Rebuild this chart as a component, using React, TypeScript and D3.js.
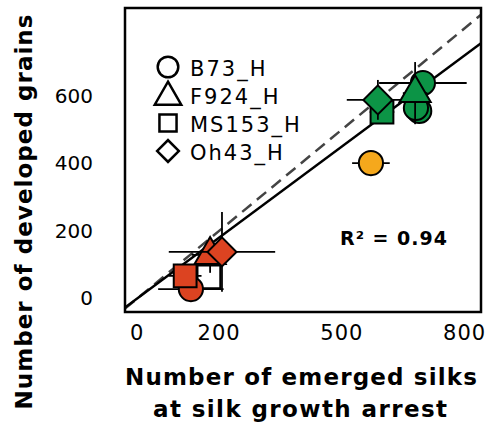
import React from 'react';
import * as d3 from 'd3';

// genotypes and their marker shapes
const genotypes = ['B73_H', 'F924_H', 'MS153_H', 'Oh43_H'];
const shapeNames = ['circle', 'triangle', 'square', 'diamond'];

// one entry per plotted point, in drawing order
const pointGenotype = [2, 0, 2, 1, 3, 2, 3, 0, 0, 0, 1, 0];
const pointFill = ['white', 'red', 'red', 'red', 'red', 'green', 'green', 'green', 'green', 'green', 'green', 'orange'];
const silks = [175, 131, 117, 178, 207, 598, 588, 689, 681, 698, 679, 571];
const grains = [64, 28, 67, 129, 138, 552, 588, 555, 564, 638, 608, 401];
const silksErr = [0, 80, 40, 45, 130, 30, 76, 0, 0, 107, 30, 46];
const grainsErr = [0, 8, 15, 53, 118, 15, 59, 0, 0, 25, 92, 0];

const xTicks = [0, 200, 500, 800];
const yTicks = [0, 200, 400, 600];
const slope = 0.9; // fitted line through origin
const r2Label = 'R² = 0.94';

const colors: Record<string, string> = {
  white: '#ffffff',
  red: '#dc4321',
  green: '#0c9446',
  orange: '#f5a81c',
};

const width = 492;
const height = 440;
const plot = { left: 125, right: 481, top: 8, bottom: 312 };
const font = 'DejaVu Sans, sans-serif';

const xScale = d3.scaleLinear().domain([-30, 840]).range([plot.left, plot.right]);
const yScale = d3.scaleLinear().domain([-40, 860]).range([plot.bottom, plot.top]);

// marker path for each shape, sized like the original
const markerPath = (shape: string, k = 1) => {
  if (shape === 'circle') return d3.symbol().type(d3.symbolCircle).size(460 * k * k)()!;
  if (shape === 'triangle') return d3.symbol().type(d3.symbolTriangle).size(420 * k * k)()!;
  if (shape === 'square') return d3.symbol().type(d3.symbolSquare).size(520 * k * k)()!;
  return d3.symbol().type(d3.symbolSquare).size(420 * k * k)()!;
};

const legendScale: Record<string, number> = { circle: 0.85, triangle: 0.85, square: 0.75, diamond: 0.75 };

export default function App() {
  const x0 = xScale.domain()[0];
  const x1 = xScale.domain()[1];
  const dash = `M${xScale(x0)},${yScale(x0)}L${xScale(x1)},${yScale(x1)}`;
  const fit = `M${xScale(x0)},${yScale(x0 * slope)}L${xScale(x1)},${yScale(x1 * slope)}`;

  return (
    <svg
      width={width}
      height={height}
      style={{ position: 'absolute', left: 0, top: 0, background: '#fff' }}
      fontFamily={font}
    >
      <defs>
        <clipPath id="plot-clip">
          <rect x={plot.left} y={plot.top} width={plot.right - plot.left} height={plot.bottom - plot.top} />
        </clipPath>
      </defs>

      {/* 1:1 and fitted lines */}
      <g clipPath="url(#plot-clip)">
        <path d={dash} stroke="#444" strokeWidth={2.5} strokeDasharray="12 7" fill="none" />
        <path d={fit} stroke="#000" strokeWidth={2.5} fill="none" />
      </g>

      {/* points with error bars */}
      {silks.map((s, i) => {
        const cx = xScale(s);
        const cy = yScale(grains[i]);
        const shape = shapeNames[pointGenotype[i]];
        return (
          <g key={i}>
            {silksErr[i] > 0 && (
              <line x1={xScale(s - silksErr[i])} x2={xScale(s + silksErr[i])} y1={cy} y2={cy} stroke="#000" strokeWidth={1.8} />
            )}
            {grainsErr[i] > 0 && (
              <line x1={cx} x2={cx} y1={yScale(grains[i] - grainsErr[i])} y2={yScale(grains[i] + grainsErr[i])} stroke="#000" strokeWidth={1.8} />
            )}
            <path
              d={markerPath(shape)}
              transform={`translate(${cx},${cy})${shape === 'diamond' ? ' rotate(45)' : ''}`}
              fill={colors[pointFill[i]]}
              stroke="#000"
              strokeWidth={2}
            />
          </g>
        );
      })}

      {/* frame */}
      <rect
        x={plot.left}
        y={plot.top}
        width={plot.right - plot.left}
        height={plot.bottom - plot.top}
        fill="none"
        stroke="#000"
        strokeWidth={2.5}
      />

      {/* tick labels */}
      {xTicks.map((t) => (
        <text key={t} x={xScale(t)} y={340} textAnchor="middle" fontSize={21} letterSpacing={1}>
          {t}
        </text>
      ))}
      {yTicks.map((t) => (
        <text key={t} x={93} y={yScale(t) + 7} textAnchor="end" fontSize={20}>
          {t}
        </text>
      ))}

      {/* legend */}
      {genotypes.map((g, i) => (
        <g key={g} transform={`translate(0,${67 + i * 28})`}>
          <path
            d={markerPath(shapeNames[i], legendScale[shapeNames[i]])}
            transform={`translate(168,${shapeNames[i] === 'triangle' ? 2 : 0})${shapeNames[i] === 'diamond' ? ' rotate(45)' : ''}`}
            fill="#fff"
            stroke="#000"
            strokeWidth={2.5}
          />
          <text x={190} y={9} fontSize={21} letterSpacing={2}>
            {g}
          </text>
        </g>
      ))}

      <text x={340} y={245} fontSize={19} fontWeight="bold" letterSpacing={1}>
        {r2Label}
      </text>

      {/* axis titles */}
      <text x={301} y={385} textAnchor="middle" fontSize={23} fontWeight="bold" textLength={352}>
        Number of emerged silks
      </text>
      <text x={300} y={417} textAnchor="middle" fontSize={23} fontWeight="bold" textLength={294}>
        at silk growth arrest
      </text>
      <text
        transform="translate(32,212) rotate(-90)"
        textAnchor="middle"
        fontSize={23}
        fontWeight="bold"
        textLength={395}
      >
        Number of developed grains
      </text>
    </svg>
  );
}
